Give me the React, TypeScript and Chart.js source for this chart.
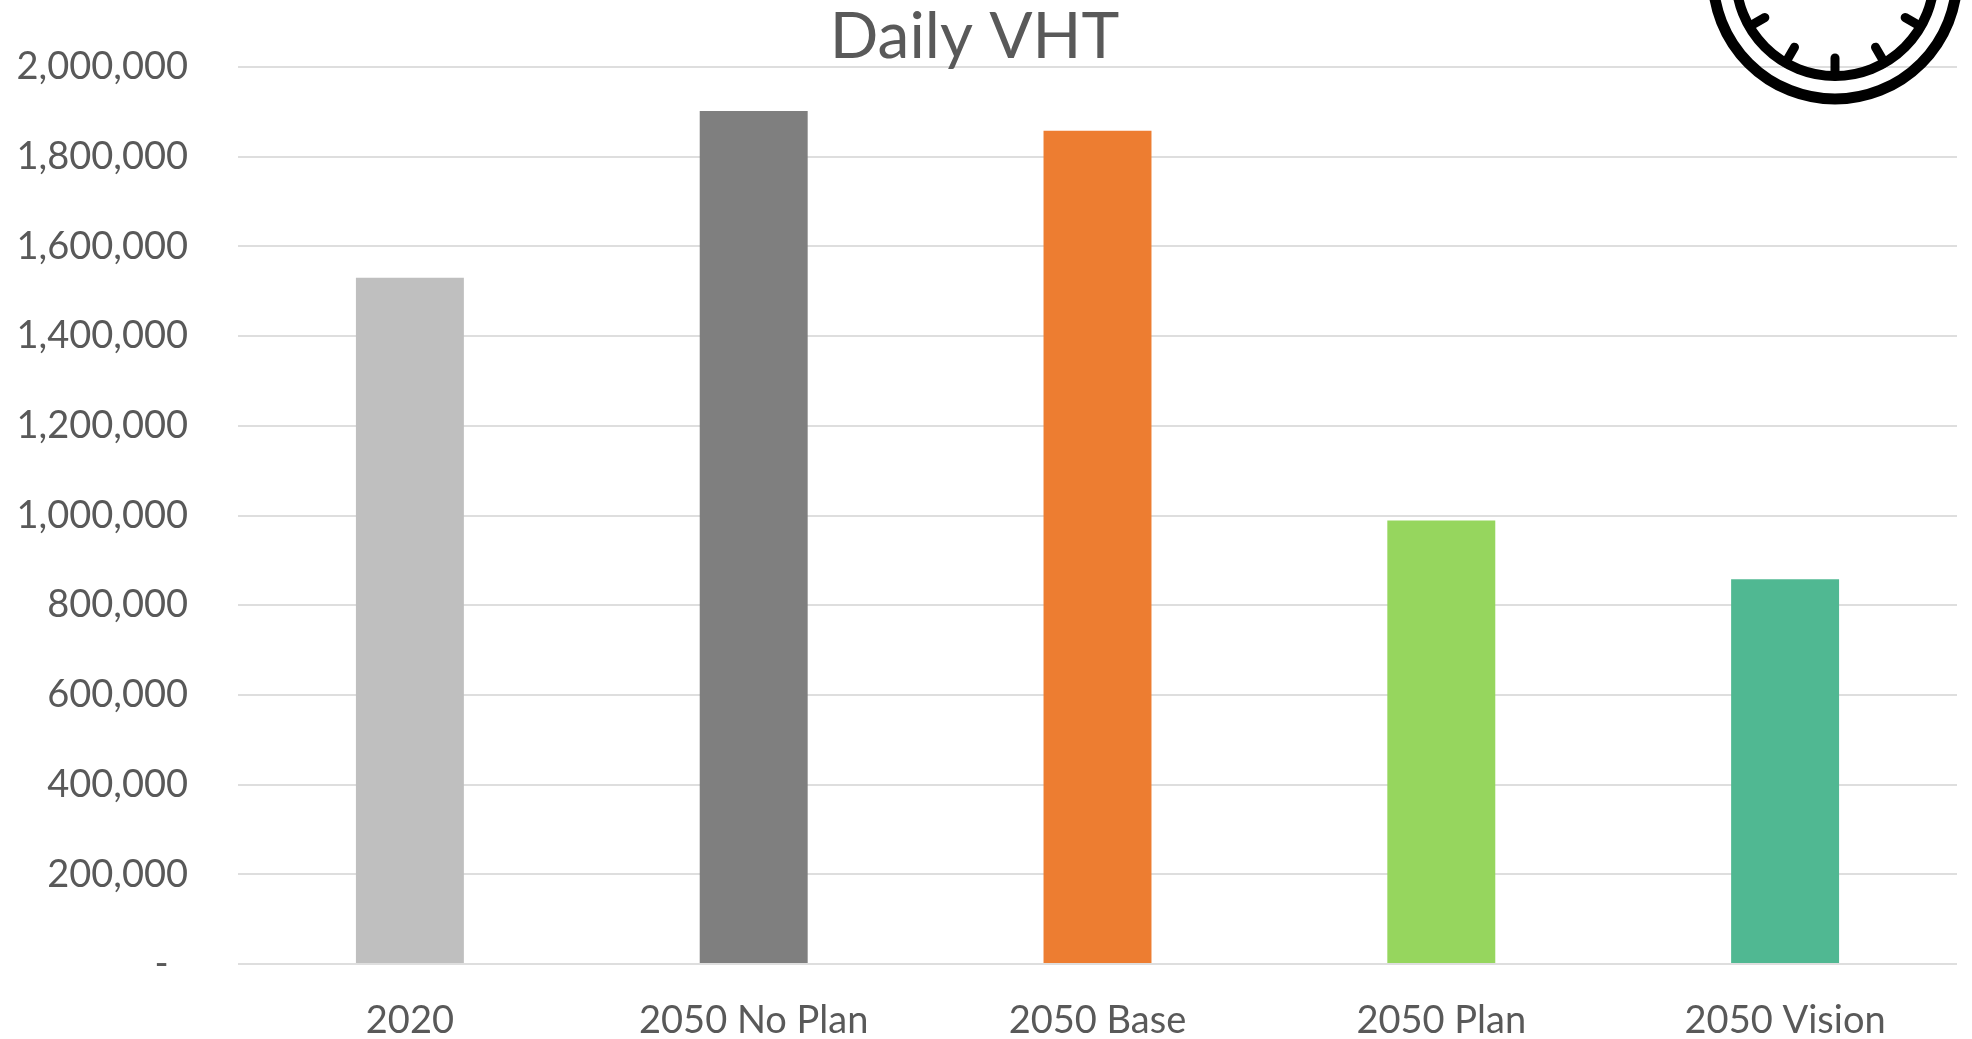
import React, { useEffect, useRef } from "react";
import { Chart, registerables } from "chart.js";

Chart.register(...registerables);

const categories = ["2020", "2050 No Plan", "2050 Base", "2050 Plan", "2050 Vision"];
const dailyVht = [1530000, 1902000, 1858000, 989000, 858000];
const barColors = ["#BFBFBF", "#7F7F7F", "#ED7D31", "#96D65E", "#50B892"];
const titleText = "Daily VHT";
const FONT = "Lato, Carlito, sans-serif";
const TEXT = "#595959";

const clockIcon = {
  id: "clockIcon",
  afterLayout(chart: any) {
    if (chart.titleBlock) chart.titleBlock.right -= 8;
  },
  afterDraw(chart: any) {
    const c = chart.ctx;
    const cx = 1835;
    const cy = -23;
    c.save();
    c.strokeStyle = "#000";
    c.lineCap = "round";
    c.lineWidth = 11;
    c.beginPath();
    c.arc(cx, cy, 122, 0, Math.PI * 2);
    c.stroke();
    c.lineWidth = 10;
    c.beginPath();
    c.arc(cx, cy, 99, 0, Math.PI * 2);
    c.stroke();
    c.lineWidth = 9;
    for (const deg of [-60, -30, 0, 30, 60]) {
      const a = (deg * Math.PI) / 180;
      const s = Math.sin(a);
      const k = Math.cos(a);
      c.beginPath();
      c.moveTo(cx + s * 99, cy + k * 99);
      c.lineTo(cx + s * 81, cy + k * 81);
      c.stroke();
    }
    c.restore();
  },
};

export default function App() {
  const ref = useRef<HTMLCanvasElement | null>(null);
  useEffect(() => {
    document.body.style.margin = "0";
    const chart = new Chart(ref.current as HTMLCanvasElement, {
      type: "bar",
      data: {
        labels: categories,
        datasets: [
          {
            data: dailyVht,
            backgroundColor: barColors,
            borderWidth: 0,
            barPercentage: 0.314,
            categoryPercentage: 1,
          },
        ],
      },
      plugins: [clockIcon],
      options: {
        animation: false,
        responsive: false,
        layout: { padding: { left: 0, right: 15, top: 0, bottom: 0 } },
        plugins: {
          legend: { display: false },
          tooltip: { enabled: false },
          title: {
            display: true,
            text: titleText,
            color: TEXT,
            font: { family: FONT, size: 64, weight: "normal", lineHeight: 0.9 },
            padding: { top: 9, bottom: 0.4 },
          },
        },
        scales: {
          x: {
            grid: { display: false, drawTicks: false },
            border: { display: false },
            afterFit(s: any) {
              s.height = 75;
            },
            ticks: {
              color: TEXT,
              padding: 34,
              maxRotation: 0,
              font: { family: FONT, size: 38 },
            },
          },
          y: {
            min: 0,
            max: 2000000,
            afterFit(s: any) {
              s.width = 238;
              s.paddingTop = 0;
              s.paddingBottom = 0;
            },
            border: { display: false },
            grid: { color: "#DEDEDE", lineWidth: 2, drawTicks: false },
            ticks: {
              stepSize: 200000,
              color: TEXT,
              padding: 50,
              font: { family: FONT, size: 38 },
              callback: (v: any) => (Number(v) === 0 ? "-\u00A0\u00A0" : Number(v).toLocaleString("en-US")),
            },
          },
        },
      },
    } as any);
    return () => chart.destroy();
  }, []);
  return <canvas ref={ref} width={1972} height={1039} style={{ display: "block" }} />;
}
